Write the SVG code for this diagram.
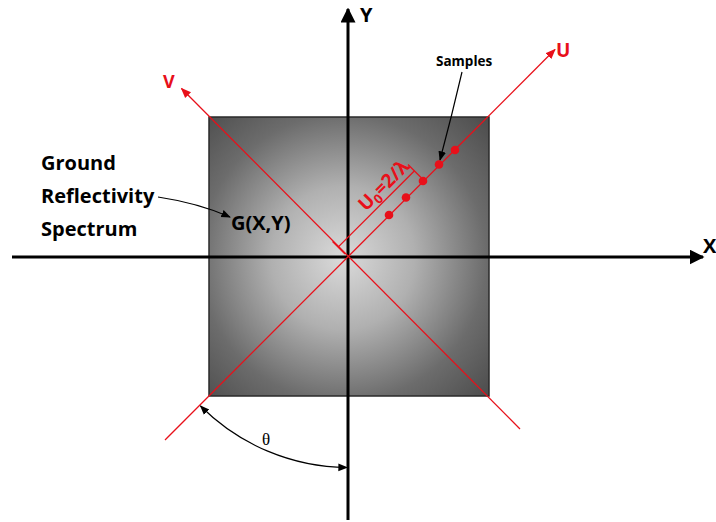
<svg xmlns="http://www.w3.org/2000/svg" width="716" height="522" viewBox="0 0 716 522">
<style>
.lbl{font-family:"Open Sans","Liberation Sans",Arial,sans-serif;font-weight:bold;fill:#000}
.red{fill:#e8101a}
.ax{stroke:#000;stroke-width:3;fill:none}
.rl{stroke:#e8101a;stroke-width:1.3;fill:none}
.thin{stroke:#000;stroke-width:1.2;fill:none}
</style>
<defs>
<radialGradient id="g" gradientUnits="userSpaceOnUse" cx="343" cy="258" r="205">
<stop offset="0" stop-color="#dadada"/>
<stop offset="0.35" stop-color="#b0b0b0"/>
<stop offset="0.7" stop-color="#6c6c6c"/>
<stop offset="1" stop-color="#4a4a4a"/>
</radialGradient>
<marker id="ab" viewBox="0 0 10 10" refX="9" refY="5" markerWidth="5" markerHeight="5" orient="auto"><path d="M0,0 L10,5 L0,10 z" fill="#000"/></marker>
<marker id="abs" viewBox="0 0 10 10" refX="9" refY="5" markerWidth="8" markerHeight="8" orient="auto-start-reverse"><path d="M0,1 L10,5 L0,9 z" fill="#000"/></marker>
<marker id="ar" viewBox="0 0 10 10" refX="9" refY="5" markerWidth="8" markerHeight="8" orient="auto"><path d="M0,1 L10,5 L0,9 z" fill="#e8101a"/></marker>
</defs>

<g id="spectrum">
<rect x="209" y="117" width="280" height="279" fill="url(#g)" stroke="#2a2a2a" stroke-width="1.5"/>
</g>

<g id="connectors">
<line class="ax" x1="12" y1="257" x2="703" y2="257" marker-end="url(#ab)"/>
<line class="ax" x1="348" y1="520" x2="348" y2="9" marker-end="url(#ab)"/>
<line class="rl" x1="165" y1="440" x2="555" y2="49.5" marker-end="url(#ar)"/>
<line class="rl" x1="520" y1="429" x2="181.5" y2="88.5" marker-end="url(#ar)"/>
<line class="rl" x1="338.1" y1="247.1" x2="414.5" y2="170.7"/>
<line class="rl" x1="332.5" y1="241.5" x2="345" y2="254"/>
<line class="rl" x1="408" y1="164.5" x2="421" y2="177.5"/>
<path class="thin" d="M158,197 Q198,203 230,217" marker-end="url(#abs)"/>
<path class="thin" d="M462,72 Q452,115 440,160" marker-end="url(#abs)"/>
<path class="thin" d="M200.5,406 A210 210 0 0 0 347,467.5" marker-start="url(#abs)" marker-end="url(#abs)"/>
</g>

<g id="samples" fill="#e8101a">
<circle cx="389" cy="215" r="4.3"/>
<circle cx="406" cy="197.5" r="4.3"/>
<circle cx="423" cy="181" r="4.3"/>
<circle cx="439" cy="164.5" r="4.3"/>
<circle cx="455" cy="150" r="4.3"/>
</g>

<g id="labels">
<text class="lbl" x="360" y="22" font-size="20">Y</text>
<text class="lbl" x="703" y="253" font-size="20">X</text>
<text class="lbl red" x="556" y="57" font-size="19">U</text>
<text class="lbl red" x="163" y="88" font-size="18">V</text>
<text class="lbl" x="436" y="66" font-size="13.5">Samples</text>
<text class="lbl" x="231" y="230" font-size="20">G(X,Y)</text>
<text class="lbl" x="41" y="170" font-size="20">Ground</text>
<text class="lbl" x="41" y="203" font-size="20">Reflectivity</text>
<text class="lbl" x="41" y="236" font-size="20">Spectrum</text>
<text class="lbl red" font-size="19" text-anchor="middle" transform="translate(388.3,189.8) rotate(-45)">U<tspan font-size="13" dy="4">0</tspan><tspan dy="-4">=2/λ</tspan></text>
<text x="266" y="445" font-family="'Liberation Serif','Times New Roman',serif" font-size="17" text-anchor="middle" fill="#000">θ</text>
</g>
</svg>
